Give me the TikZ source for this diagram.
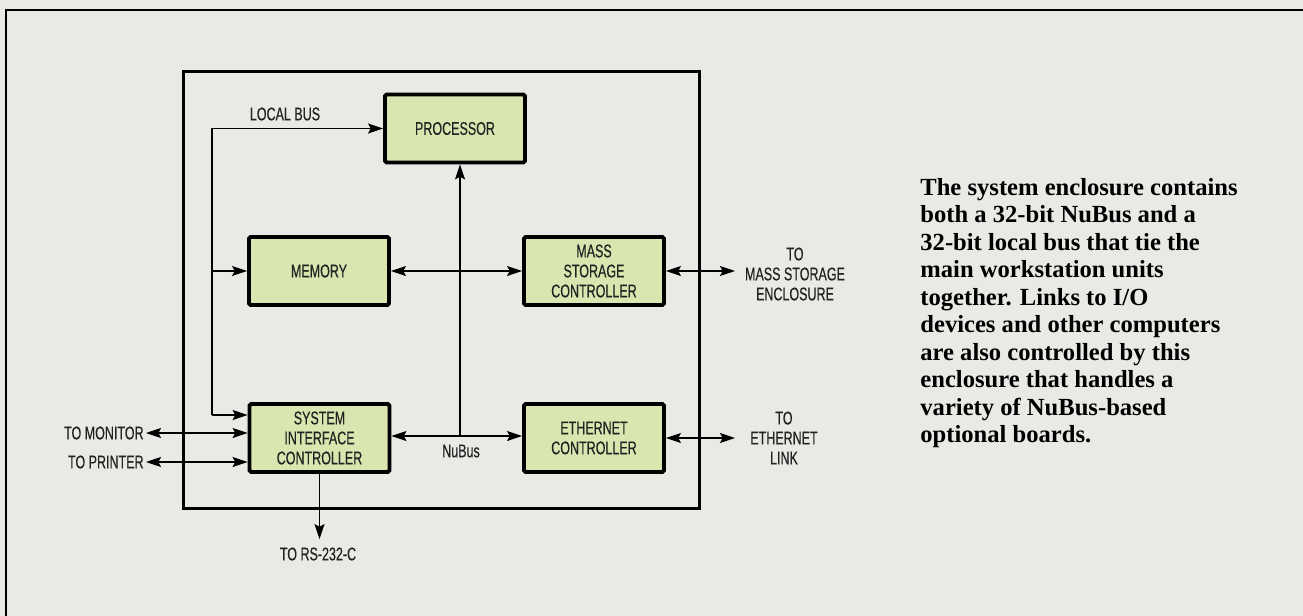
\documentclass[tikz,border=0pt]{standalone}
\usepackage{fontspec}
\usetikzlibrary{arrows.meta}
\newfontfamily\condfont[FakeStretch=0.68,FakeBold=0.35]{Liberation Sans}
\newfontfamily\capfont{Liberation Serif}
\definecolor{BoardGreen}{HTML}{D9E6B0}
\definecolor{PaperGray}{HTML}{E9E9E5}
\definecolor{InkGray}{HTML}{222222}

\begin{document}
\begin{tikzpicture}[x=0.5pt, y=-0.5pt,
    unit/.style={draw, line width=1.9pt, rounded corners=0.8pt, fill=BoardGreen,
      minimum width=70pt, minimum height=34pt, align=center, inner sep=0pt,
      text=InkGray, font=\condfont\fontsize{9.2}{10}\selectfont},
    lbl/.style={align=center, inner sep=1pt, text=InkGray,
      font=\condfont\fontsize{9.2}{10}\selectfont},
    bus/.style={line width=0.65pt},
    >={Stealth[length=7.5pt,width=5pt,inset=1.3pt]}]
  % paper and frame
  \fill[PaperGray] (0,0) rectangle (1303,616);
  \useasboundingbox (0,0) rectangle (1303,616);
  \draw[line width=1.1pt] (1303,10) -- (6,10) -- (6,616);
  % system enclosure
  \draw[line width=1.5pt] (183,71) rectangle (699,508);
  % units
  \node[unit] (cpu) at (455,128.5) {PROCESSOR};
  \node[unit] (mem) at (319,271) {MEMORY};
  \node[unit] (msc) at (594,271) {MASS\\STORAGE\\CONTROLLER};
  \node[unit] (sic) at (319.5,438) {SYSTEM\\INTERFACE\\CONTROLLER};
  \node[unit] (eth) at (594,438) {ETHERNET\\CONTROLLER};
  % labels
  \node[lbl] (lbus) at (285,114) {LOCAL BUS};
  \node[lbl] (nubus) at (461,451) {NuBus};
  \node[lbl, anchor=east] (mon) at (146,433) {TO MONITOR};
  \node[lbl, anchor=east] (prn) at (146,462) {TO PRINTER};
  \node[lbl] (rs) at (318,554) {TO RS-232-C};
  \node[lbl] (mse) at (795,274) {TO\\MASS STORAGE\\ENCLOSURE};
  \node[lbl] (etl) at (784,438) {TO\\ETHERNET\\LINK};
  % local bus
  \coordinate (lbtop) at (212,128.5);
  \coordinate (lbbot) at (212,415);
  \draw[bus,->] (lbbot) -- (lbtop) -- (cpu.west);
  \draw[bus,->] (lbtop |- mem.west) -- (mem.west);
  \draw[bus,->] (lbbot) -- (lbbot -| sic.west);
  % NuBus
  \coordinate (nbjoin) at (460,436);
  \draw[bus,<->] (sic.east |- nbjoin) -- (eth.west |- nbjoin);
  \draw[bus,->] (nbjoin) -- (nbjoin |- cpu.south);
  \draw[bus,<->] (mem.east) -- (msc.west);
  % links out of the enclosure
  \coordinate (msport) at (735,271);
  \coordinate (ethport) at (735,438);
  \draw[bus,<->] (mon.east) -- (mon.east -| sic.west);
  \draw[bus,<->] (prn.east) -- (prn.east -| sic.west);
  \draw[bus,->] (sic.south) -- ([yshift=3pt]sic.south |- rs.north);
  \draw[bus,<->] (msc.east) -- (msport);
  \draw[bus,<->] (eth.east) -- (ethport);
  % caption
  \node[anchor=north west, align=left, inner sep=0pt,
    font=\capfont\bfseries\fontsize{12.3}{13.75}\selectfont] (caption) at (920,178)
    {The system enclosure contains\\both a 32-bit NuBus and a\\32-bit local bus that tie the\\main workstation units\\together. Links to I/O\\devices and other computers\\are also controlled by this\\enclosure that handles a\\variety of NuBus-based\\optional boards.};
\end{tikzpicture}
\end{document}
